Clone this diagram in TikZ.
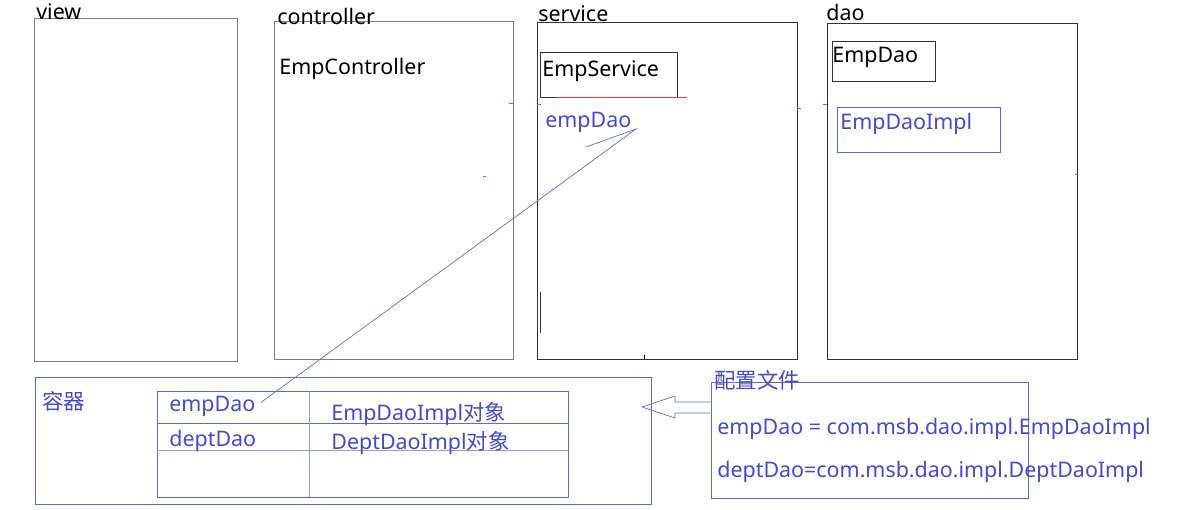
\documentclass[tikz,border=0pt]{standalone}
\usepackage{fontspec}
\setmainfont{Noto Sans}
\newfontfamily\cjk{Noto Sans CJK SC}
\usetikzlibrary{fit}
\definecolor{penblue}{RGB}{68,74,206}
\definecolor{lineblue}{RGB}{98,104,218}
\definecolor{paleblue}{RGB}{150,156,236}
\definecolor{boxgray}{RGB}{128,128,128}
\definecolor{tickred}{RGB}{236,70,70}

\begin{document}
\begin{tikzpicture}[x=0.02cm, y=-0.02cm,
  txt/.style={anchor=base west, inner sep=0pt, font=\fontsize{12.2}{14}\selectfont},
  bluetxt/.style={txt, text=penblue},
  graybox/.style={draw=boxgray, line width=0.5pt, inner sep=0pt},
  darkbox/.style={draw=black!80, line width=0.5pt, inner sep=0pt},
  bluebox/.style={draw=lineblue, line width=0.5pt, inner sep=0pt},
  wire/.style={draw=lineblue, line width=0.4pt},
  tick/.style={draw=tickred, line width=0.4pt}]
\useasboundingbox (0,0) rectangle (1196,510);

% layers
\node[graybox, fit={(34,18) (237,361)}] (view) {};
\node[graybox, fit={(274,21) (513,359)}] (ctrl) {};
\node[darkbox, fit={(537,22) (797,359)}] (service) {};
\node[darkbox, fit={(827,23) (1077,359)}] (dao) {};
\node[txt] (viewlbl) at (36,20) {view};
\node[txt] (ctrllbl) at (277,25) {controller};
\node[txt] (servlbl) at (538,22) {service};
\node[txt] (daolbl) at (826,21) {dao};

\node[txt] (empctrl) at (279,75) {EmpController};
\node[darkbox, fit={(540,52) (677,97)}] (empserv) {};
\node[txt] at (542,77) {EmpService};
\node[bluetxt] (servdao) at (545,128) {empDao};
\node[darkbox, fit={(832,41) (935,81)}] (empdao) {};
\node[txt] at (832,63) {EmpDao};
\node[bluebox, fit={(837,107) (1000,152)}] (impl) {};
\node[bluetxt] at (840,130) {EmpDaoImpl};

% stray pen marks
\draw[tick] (557,97) -- (687,97);
\draw[tick] (ctrl.east |- 0,103) -- +(-4,0);
\draw[tick] (service.west |- 0,104) -- +(4,0);
\draw[tick] (service.east |- 0,108) -- +(4,0);
\draw[tick] (dao.west |- 0,104) -- +(-4,0);
\draw[tick] (483,176) -- (486,176);
\draw[black!80, line width=0.5pt] (540,292) -- (540,333);
\draw[black, line width=0.5pt] (644,355) -- (644,359);
\draw[lineblue, line width=0.4pt] (1075,174) -- (1078,174);

% container
\node[bluebox, fit={(35,377) (651,504)}] (box) {};
\node[bluetxt] (boxlbl) at (42,409) {\cjk 容器};
\node[bluebox, fit={(157,391) (568,497)}] (table) {};
\draw[lineblue, line width=0.5pt] (table.west |- 0,423) -- (table.east |- 0,423);
\draw[paleblue, line width=0.5pt] (table.west |- 0,450) -- (table.east |- 0,450);
\draw[paleblue, line width=0.5pt] (309,391) -- (309,497);
\node[bluetxt] (emprow) at (169,411) {empDao};
\node[bluetxt] (deptrow) at (169,446) {deptDao};
\node[bluetxt] (empobj) at (331,420) {EmpDaoImpl{\cjk 对象}};
\node[bluetxt] (deptobj) at (331,449) {DeptDaoImpl{\cjk 对象}};

% config file
\node[bluebox, fit={(711,382) (1028,498)}] (config) {};
\node[bluetxt] (cfglbl) at (714,388) {\cjk 配置文件};
\node[bluetxt] (cfgemp) at (717,434) {empDao = com.msb.dao.impl.EmpDaoImpl};
\node[bluetxt] (cfgdept) at (717,477) {deptDao=com.msb.dao.impl.DeptDaoImpl};

% hollow arrow into the container
\draw[wire] (config.west |- 0,402) -- (675,402) -- (675,396) -- (642,407)
  -- (675,418) -- (675,413) -- (config.west |- 0,413);

% injection line
\coordinate (hook) at (636,129);
\coordinate (hookend) at (586,147);
\draw[wire] ([xshift=3pt,yshift=2pt]emprow.east) -- (hook) -- (hookend);
\end{tikzpicture}
\end{document}
